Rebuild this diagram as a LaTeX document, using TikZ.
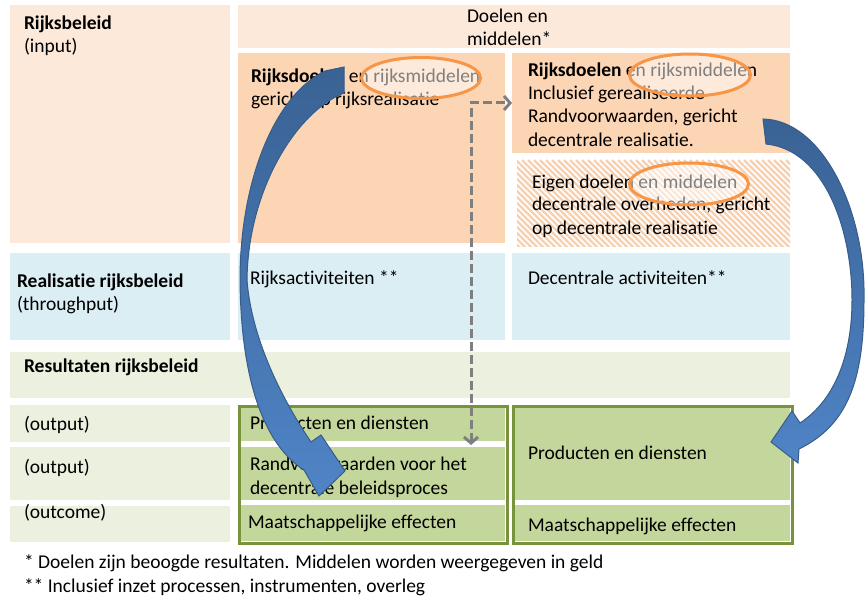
\documentclass[tikz,border=0pt]{standalone}
\usepackage{fontspec}
\setmainfont{Carlito}[RawFeature={-liga;-calt;-dlig;-clig}]
\usetikzlibrary{arrows.meta,shapes.geometric}
\definecolor{peachL}{HTML}{FDE9D9}
\definecolor{peachD}{HTML}{FCD5B5}
\definecolor{blueL}{HTML}{DBEEF4}
\definecolor{greenL}{HTML}{EBF1DE}
\definecolor{greenM}{HTML}{C3D69B}
\definecolor{greenB}{HTML}{77933C}
\definecolor{orangeE}{HTML}{F79646}
\definecolor{grayD}{HTML}{7F7F7F}
\definecolor{blueTop}{HTML}{3A6294}
\definecolor{blueBot}{HTML}{4F84C6}
\definecolor{blueAD}{HTML}{385D8A}
\definecolor{hatchC}{HTML}{FBCFAA}
\begin{document}
\begin{tikzpicture}[x=1pt,y=-1pt,
  box/.style={draw=none,inner sep=0pt,outer sep=0pt,anchor=north west},
  txt/.style={anchor=base west,inner sep=0pt,outer sep=0pt,font=\fontsize{19.5}{23.5}\selectfont},
  ring/.style={ellipse,draw=orangeE,line width=3pt,fill=white,fill opacity=0.5,draw opacity=1,inner sep=0pt},
  grp/.style={draw=greenB,line width=3pt,inner sep=0pt,anchor=north west},
  dashline/.style={draw=grayD,line width=3pt,dash pattern=on 9pt off 4pt,
    arrows={Straight Barb[length=6pt,width=14pt]-Straight Barb[length=6pt,width=14pt]}},
  bigarrow/.style={top color=blueTop,bottom color=blueBot,draw=blueAD,line width=1pt},
  hatchline/.style={draw=hatchC,line width=2.2pt}
]
\useasboundingbox (0,0) rectangle (865,599);
\fill[white] (0,0) rectangle (865,599);

% left column
\node[box,fill=peachL,minimum width=220pt,minimum height=238pt] (rb) at (10,5) {};
\node[box,fill=blueL,minimum width=220pt,minimum height=87pt] (rr) at (10,253) {};
\node[box,fill=greenL,minimum width=780pt,minimum height=46pt] (res) at (10,352) {};
\node[box,fill=greenL,minimum width=220pt,minimum height=37pt] (o1) at (10,405) {};
\node[box,fill=greenL,minimum width=220pt,minimum height=53pt] (o2) at (10,447) {};
\node[box,fill=greenL,minimum width=220pt,minimum height=36pt] (oc) at (10,506) {};

% top header
\node[box,fill=peachL,minimum width=552pt,minimum height=43pt] (dm) at (238,5) {};
% middle column
\node[box,fill=peachD,minimum width=267pt,minimum height=190pt] (rd) at (238,53) {};
\node[box,fill=blueL,minimum width=267pt,minimum height=87pt] (ra) at (238,253) {};
% right column
\node[box,fill=peachD,minimum width=278pt,minimum height=100pt] (rdr) at (512,53) {};
\node[box,fill=white,minimum width=273pt,minimum height=86pt] (hb) at (517,160) {};
\begin{scope}
  \clip (hb.north west) rectangle (hb.south east);
  \foreach \i in {420,426,...,792} \draw[hatchline] (\i,160) -- ++(90,90);
\end{scope}
\node[box,fill=blueL,minimum width=278pt,minimum height=87pt] (da) at (512,253) {};

% green groups
\node[box,fill=greenM,minimum width=267pt,minimum height=36pt] (g1) at (238,405) {};
\node[box,fill=greenM,minimum width=267pt,minimum height=53pt] (g2) at (238,447) {};
\node[box,fill=greenM,minimum width=267pt,minimum height=36pt] (g3) at (238,505) {};
\node[grp,minimum width=268pt,minimum height=137pt] (gl) at (238,405) {};
\node[box,fill=greenM,minimum width=278pt,minimum height=95pt] (h1) at (512,405) {};
\node[box,fill=greenM,minimum width=278pt,minimum height=36pt] (h2) at (512,505) {};
\node[grp,minimum width=279pt,minimum height=137pt] (gr) at (512,405) {};

% texts
\node[txt] (t1) at (24,30) {\textbf{Rijksbeleid}};
\node[txt] (t2) at (24,53) {(input)};
\node[txt] (t3) at (467,23) {Doelen en};
\node[txt] (t4) at (467,46) {middelen*};
\node[txt] (t5) at (251,83) {\textbf{Rijksdoelen} en rijksmiddelen};
\node[txt] (t6) at (251,106) {gericht op rijksrealisatie};
\node[txt] (t7) at (528,77) {\textbf{Rijksdoelen} en rijksmiddelen};
\node[txt] (t8) at (528,100) {Inclusief gerealiseerde};
\node[txt] (t9) at (528,123) {Randvoorwaarden, gericht};
\node[txt] (t10) at (528,147) {decentrale realisatie.};
\node[txt] (t11) at (532,188) {Eigen doelen en middelen};
\node[txt] (t12) at (532,211) {decentrale overheden, gericht};
\node[txt] (t13) at (532,234) {op decentrale realisatie};
\node[txt] (t14) at (17,287) {\textbf{Realisatie rijksbeleid}};
\node[txt] (t15) at (17,310) {(throughput)};
\node[txt] (t16) at (250,284) {Rijksactiviteiten **};
\node[txt] (t17) at (528,284) {Decentrale activiteiten**};
\node[txt] (t18) at (24,372) {\textbf{Resultaten rijksbeleid}};
\node[txt] (t19) at (24,430) {(output)};
\node[txt] (t20) at (24,473) {(output)};
\node[txt] (t21) at (24,518) {(outcome)};
\node[txt] (t22) at (250,429) {Producten en diensten};
\node[txt] (t23) at (250,470) {Randvoorwaarden voor het};
\node[txt] (t24) at (250,494) {decentrale beleidsproces};
\node[txt] (t25) at (248,528) {Maatschappelijke effecten};
\node[txt] (t26) at (528,459) {Producten en diensten};
\node[txt] (t27) at (528,531) {Maatschappelijke effecten};
\node[txt] (t28) at (24,568) {* Doelen zijn beoogde resultaten. Middelen worden weergegeven in geld};
\node[txt] (t29) at (24,592) {** Inclusief inzet processen, instrumenten, overleg};

% ellipses
\node[ring,minimum width=119pt,minimum height=41pt] (e1) at (421,78) {};
\node[ring,minimum width=121pt,minimum height=42pt] (e2) at (690,75) {};
\node[ring,minimum width=119pt,minimum height=42pt] (e3) at (689,184) {};

% dashed connector
\coordinate (dA) at (471,445);
\coordinate (dB) at (512,103);
\draw[dashline] (dA) |- (dB);

% big curved arrows
\shadedraw[bigarrow] (325,71) -- (344,67) -- (344,93)
  .. controls (296,112) and (248,190) .. (247,280)
  .. controls (252,345) and (288,408) .. (311,442)
  -- (321,435) -- (345,471) -- (319,496) -- (304,470)
  .. controls (266,446) and (241,385) .. (240,280)
  .. controls (240,180) and (275,95) .. (325,71) -- cycle;
\shadedraw[bigarrow] (763,119)
  .. controls (822,120) and (866,210) .. (864,300)
  .. controls (864,380) and (848,425) .. (799,449)
  -- (798,463) -- (771,442) -- (792,411) -- (800,423)
  .. controls (835,400) and (852,355) .. (852,300)
  .. controls (852,230) and (825,150) .. (766,144) -- cycle;
\end{tikzpicture}
\end{document}
